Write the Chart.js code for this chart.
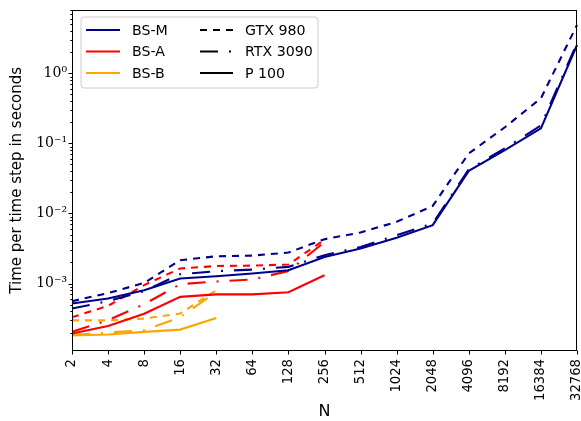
<!DOCTYPE html>
<html>
<head>
<meta charset="utf-8">
<script src="https://cdn.jsdelivr.net/npm/chart.js@4/dist/chart.umd.min.js"></script>
<style>
  html, body { margin: 0; padding: 0; background: #fff; }
  #c { display: block; }
</style>
</head>
<body>
<canvas id="c" width="581" height="421"></canvas>
<script>
// ---- data ----
const nLabels = ['2','4','8','16','32','64','128','256','512','1024','2048','4096','8192','16384','32768'];

const bsmGtx980  = [5.6e-4, 7.3e-4, 1.02e-3, 2.15e-3, 2.45e-3, 2.5e-3, 2.77e-3, 4.3e-3, 5.35e-3, 7.6e-3, 1.28e-2, 7.2e-2, 0.17, 0.44, 4.9];
const bsmRtx3090 = [4.4e-4, 5.6e-4, 7.8e-4, 1.36e-3, 1.5e-3, 1.58e-3, 1.73e-3, 2.54e-3, 3.33e-3, 4.9e-3, 7.2e-3, 4.25e-2, 8.5e-2, 0.18, 2.7];
const bsmP100    = [5.2e-4, 6.1e-4, 8.0e-4, 1.18e-3, 1.27e-3, 1.39e-3, 1.55e-3, 2.4e-3, 3.16e-3, 4.5e-3, 6.8e-3, 4.06e-2, 8.0e-2, 0.164, 2.54];

const bsaGtx980  = [3.3e-4, 4.8e-4, 9.5e-4, 1.64e-3, 1.78e-3, 1.8e-3, 1.87e-3, 4.2e-3];
const bsaRtx3090 = [2.05e-4, 3.0e-4, 5.06e-4, 9.8e-4, 1.07e-3, 1.14e-3, 1.51e-3, 3.9e-3];
const bsaP100    = [1.93e-4, 2.48e-4, 3.7e-4, 6.45e-4, 7.0e-4, 7.0e-4, 7.5e-4, 1.31e-3];

const bsbGtx980  = [2.98e-4, 2.98e-4, 3.16e-4, 3.73e-4, 8.0e-4];
const bsbRtx3090 = [1.85e-4, 2.0e-4, 2.15e-4, 3.3e-4, 7.6e-4];
const bsbP100    = [1.82e-4, 1.87e-4, 2.04e-4, 2.2e-4, 3.23e-4];

const yMajorTicks = [1e-3, 1e-2, 1e-1, 1];
const yTickLabels = ['10\u207B\u00B3', '10\u207B\u00B2', '10\u207B\u00B9', '10\u2070'];

const methodNames = ['BS-M', 'BS-A', 'BS-B'];
const gpuNames = ['GTX 980', 'RTX 3090', 'P 100'];

// ---- styles ----
const NAVY = '#00008b', RED = '#ff0000', ORANGE = '#ffa500';
const methodColors = [NAVY, RED, ORANGE];
const DASH_GTX = [7, 6];
const DASH_RTX = [18, 11, 2, 11];
const DASH_P100 = [];
const gpuDashes = [DASH_GTX, DASH_RTX, DASH_P100];
const SANS = 'DejaVu Sans';

function ds(label, data, color, dash) {
  return {
    label, data, borderColor: color, backgroundColor: color, borderDash: dash,
    borderWidth: 2.1, pointRadius: 0, pointHoverRadius: 0, fill: false, tension: 0,
    spanGaps: false
  };
}

const frameAndTicks = {
  id: 'frameAndTicks',
  afterDraw(chart) {
    const ctx = chart.ctx;
    const a = chart.chartArea;
    const xs = chart.scales.x, ys = chart.scales.y;
    ctx.save();
    ctx.strokeStyle = '#000';
    ctx.lineWidth = 1;
    const L = Math.round(a.left) + 0.5, R = Math.round(a.right) - 0.5;
    const T = Math.round(a.top) + 0.5, B = Math.round(a.bottom) - 0.5;
    ctx.strokeRect(L, T, R - L, B - T);
    ctx.beginPath();
    for (let i = 0; i < nLabels.length; i++) {
      const x = Math.round(xs.getPixelForValue(i)) + 0.5;
      ctx.moveTo(x, B); ctx.lineTo(x, B + 4);
    }
    for (let k = -4; k <= 0; k++) {
      for (let d = 1; d <= 9; d++) {
        const v = d * Math.pow(10, k);
        if (v < ys.min || v > ys.max) continue;
        const y = Math.round(ys.getPixelForValue(v)) + 0.5;
        const len = d === 1 ? 4 : 2.2;
        ctx.moveTo(L, y); ctx.lineTo(L - len, y);
      }
    }
    ctx.stroke();
    ctx.restore();
  }
};

const customLegend = {
  id: 'customLegend',
  afterDraw(chart) {
    const ctx = chart.ctx;
    ctx.save();
    const bx = 81, by = 17, bw = 237, bh = 71, r = 3;
    ctx.beginPath();
    ctx.moveTo(bx + r, by);
    ctx.arcTo(bx + bw, by, bx + bw, by + bh, r);
    ctx.arcTo(bx + bw, by + bh, bx, by + bh, r);
    ctx.arcTo(bx, by + bh, bx, by, r);
    ctx.arcTo(bx, by, bx + bw, by, r);
    ctx.closePath();
    ctx.fillStyle = 'rgba(255,255,255,0.8)';
    ctx.fill();
    ctx.strokeStyle = '#cccccc';
    ctx.lineWidth = 1;
    ctx.stroke();

    const rows = [30, 51.5, 73];
    ctx.font = '14.2px "' + SANS + '"';
    ctx.textBaseline = 'middle';
    ctx.textAlign = 'left';
    ctx.lineWidth = 2.1;
    for (let i = 0; i < 3; i++) {
      ctx.setLineDash([]);
      ctx.strokeStyle = methodColors[i];
      ctx.beginPath(); ctx.moveTo(86, rows[i]); ctx.lineTo(120, rows[i]); ctx.stroke();
      ctx.fillStyle = '#000';
      ctx.fillText(methodNames[i], 132, rows[i] + 1);
      ctx.setLineDash(gpuDashes[i]);
      ctx.strokeStyle = '#000';
      ctx.beginPath(); ctx.moveTo(200, rows[i]); ctx.lineTo(233, rows[i]); ctx.stroke();
      ctx.setLineDash([]);
      ctx.fillText(gpuNames[i], 245, rows[i] + 1);
    }
    ctx.restore();
  }
};

new Chart(document.getElementById('c'), {
  type: 'line',
  data: {
    labels: nLabels,
    datasets: [
      ds('BS-M GTX 980', bsmGtx980, NAVY, DASH_GTX),
      ds('BS-M RTX 3090', bsmRtx3090, NAVY, DASH_RTX),
      ds('BS-M P 100', bsmP100, NAVY, DASH_P100),
      ds('BS-A GTX 980', bsaGtx980, RED, DASH_GTX),
      ds('BS-A RTX 3090', bsaRtx3090, RED, DASH_RTX),
      ds('BS-A P 100', bsaP100, RED, DASH_P100),
      ds('BS-B GTX 980', bsbGtx980, ORANGE, DASH_GTX),
      ds('BS-B RTX 3090', bsbRtx3090, ORANGE, DASH_RTX),
      ds('BS-B P 100', bsbP100, ORANGE, DASH_P100)
    ]
  },
  options: {
    responsive: false,
    devicePixelRatio: 1,
    animation: false,
    events: [],
    layout: { padding: { top: 9.5, right: 4, left: 0, bottom: 0 } },
    plugins: { legend: { display: false }, tooltip: { enabled: false } },
    scales: {
      x: {
        type: 'category',
        offset: false,
        border: { display: false },
        grid: { drawOnChartArea: false, drawTicks: true, tickLength: 4, tickColor: 'rgba(0,0,0,0)' },
        ticks: {
          autoSkip: false, minRotation: 90, maxRotation: 90, padding: 4,
          color: '#000', font: { family: SANS, size: 13.2 }
        },
        title: { display: true, text: 'N', color: '#000', font: { family: SANS, size: 16 }, padding: { top: 0, bottom: 0 } },
        afterFit(s) { s.height = 70; s.paddingLeft = 0; s.paddingRight = 0; }
      },
      y: {
        type: 'logarithmic',
        min: 1.089e-4,
        max: 8.15,
        border: { display: false },
        grid: { drawOnChartArea: false, drawTicks: true, tickLength: 4, tickColor: 'rgba(0,0,0,0)' },
        afterBuildTicks(s) { s.ticks = yMajorTicks.map(v => ({ value: v, major: true })); },
        ticks: {
          autoSkip: false, padding: 1, color: '#000',
          font: { family: 'DejaVu Serif', size: 14 },
          callback(v) {
            const i = yMajorTicks.findIndex(t => Math.abs(t - v) / t < 1e-6);
            return i >= 0 ? yTickLabels[i] : '';
          }
        },
        title: { display: true, text: 'Time per time step in seconds', color: '#000', font: { family: SANS, size: 15 }, padding: { top: 8, bottom: 0 } },
        afterFit(s) { s.width = 72; s.paddingTop = 0; s.paddingBottom = 0; }
      }
    }
  },
  plugins: [frameAndTicks, customLegend]
});
</script>
</body>
</html>
